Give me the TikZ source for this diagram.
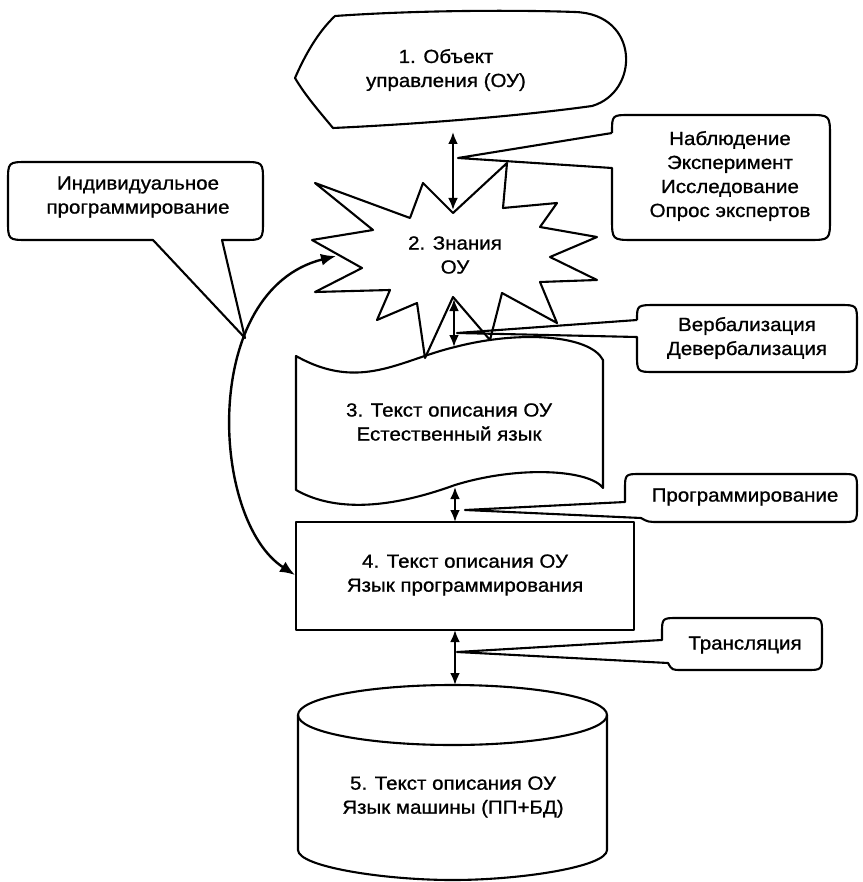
\documentclass[tikz,border=0pt]{standalone}
\usepackage{fontspec}
\setmainfont{Liberation Sans}[FakeStretch=1.08,FakeBold=0.9]
\usetikzlibrary{arrows.meta}
\begin{document}
\begin{tikzpicture}[x=1pt,y=-1pt,line join=round,
  outline/.style={draw=black,line width=2.1pt},
  caption/.style={align=center,font=\fontsize{19}{24}\selectfont,inner sep=0pt},
  link/.style={line width=2.8pt,{Latex[length=12pt,width=10pt]}-{Latex[length=12pt,width=10pt]}},
  bowlink/.style={line width=2.4pt,{Latex[length=15pt,width=12pt]}-{Latex[length=15pt,width=12pt]}}]
\fill[white] (0,0) rectangle (862,882);
\useasboundingbox (0,0) rectangle (862,882);

% 1: display shape
\draw[outline] (295,78) .. controls (305,55) and (318,32) .. (335,16)
  .. controls (420,10) and (520,10) .. (575,12)
  .. controls (640,14) and (640,92) .. (592,106)
  .. controls (520,116) and (420,124) .. (333,128)
  .. controls (318,110) and (305,95) .. (295,78) -- cycle;
\node[caption] (t1) at (446,70) {1. Объект\\управления (ОУ)};

% 2: burst
\draw[outline] (315,183) -- (410,218) -- (423,183) -- (453,213) -- (507,163)
  -- (503,208) -- (557,203) -- (540,227) -- (597,237) -- (550,257)
  -- (597,280) -- (540,282) -- (557,323) -- (502,293) -- (490,340)
  -- (453,297) -- (425,358) -- (417,303) -- (377,320) -- (390,290)
  -- (315,292) -- (362,268) -- (312,240) -- (373,230) -- cycle;
\node[caption] (t2) at (455,255) {2. Знания\\ОУ};

% 3: punched tape
\draw[outline] (296,356) .. controls (360,392) and (400,360) .. (455,347)
  .. controls (520,330) and (590,335) .. (603,360) -- (603,488)
  .. controls (590,470) and (520,465) .. (455,485)
  .. controls (400,505) and (340,515) .. (296,490) -- cycle;
\node[caption] (t3) at (449,422) {3. Текст описания ОУ\\Естественный язык};

% 4: process box
\draw[outline] (296,522) rectangle (634,630);
\node[caption] (t4) at (465,575) {4. Текст описания ОУ\\Язык программирования};

% 5: storage cylinder
\draw[outline] (452.5,715) ellipse [x radius=154.5,y radius=30];
\draw[outline] (298,715) -- (298,850)
  .. controls (298,866.6) and (383.3,880) .. (452.5,880)
  .. controls (521.7,880) and (607,866.6) .. (607,850) -- (607,715);
\node[caption] (t5) at (453,797) {5. Текст описания ОУ\\Язык машины (ПП+БД)};

% link end points
\coordinate (s1b) at (453,132);
\coordinate (s2t) at (453,210);
\coordinate (s2b) at (454,299);
\coordinate (s3t) at (454,347);
\coordinate (s3b) at (455,487);
\coordinate (s4t) at (455,522);
\coordinate (s4b) at (455,630);
\coordinate (s5t) at (455,685);
\coordinate (s4l) at (295,575);
\coordinate (s2l) at (336,256);

\draw[link] (s1b) -- (s2t);
\draw[link] (s2b) -- (s3t);
\draw[link] (s3b) -- (s4t);
\draw[link] (s4b) -- (s5t);
\draw[bowlink] (s4l) .. controls (210,520) and (200,290) .. (s2l);

% callout tips
\coordinate (pa) at (458,158);
\coordinate (pb) at (457,333);
\coordinate (pc) at (465,510);
\coordinate (pd) at (457,652);
\coordinate (pe) at (245,338);

% callouts
\draw[outline] (612,133) -- (pa) -- (612,168) -- (612,218) .. controls (612,240) .. (634,240)
  -- (808,240) .. controls (830,240) .. (830,218) -- (830,137) .. controls (830,115) .. (808,115)
  -- (630,115) .. controls (612,115) .. (612,133);
\node[caption] (c1) at (730,176) {Наблюдение\\Эксперимент\\Исследование\\Опрос экспертов};

\draw[outline] (637,320) -- (pb) -- (637,337) -- (637,354) .. controls (637,372) .. (655,372)
  -- (839,372) .. controls (857,372) .. (857,354) -- (857,323) .. controls (857,305) .. (839,305)
  -- (657,305) .. controls (637,305) .. (637,320);
\node[caption] (c2) at (747,338) {Вербализация\\Девербализация};

\draw[outline] (625,502) -- (pc) -- (641,518) .. controls (648,522) .. (660,522)
  -- (841,522) .. controls (857,522) .. (857,506) -- (857,490) .. controls (857,474) .. (841,474)
  -- (641,474) .. controls (625,474) .. (625,490) -- cycle;
\node[caption] (c3) at (745,497) {Программирование};

\draw[outline] (662,640) -- (pd) -- (668,663) .. controls (672,670) .. (682,670)
  -- (806,670) .. controls (822,670) .. (822,654) -- (822,634) .. controls (822,618) .. (806,618)
  -- (678,618) .. controls (662,618) .. (662,634) -- cycle;
\node[caption] (c4) at (745,645) {Трансляция};

\draw[outline] (153,240) -- (pe) -- (222,240) -- (243,240) .. controls (263,240) .. (263,220)
  -- (263,182) .. controls (263,162) .. (243,162) -- (28,162) .. controls (8,162) .. (8,182)
  -- (8,220) .. controls (8,240) .. (28,240) -- cycle;
\node[caption] (c5) at (138,197) {Индивидуальное\\программирование};
\end{tikzpicture}
\end{document}
